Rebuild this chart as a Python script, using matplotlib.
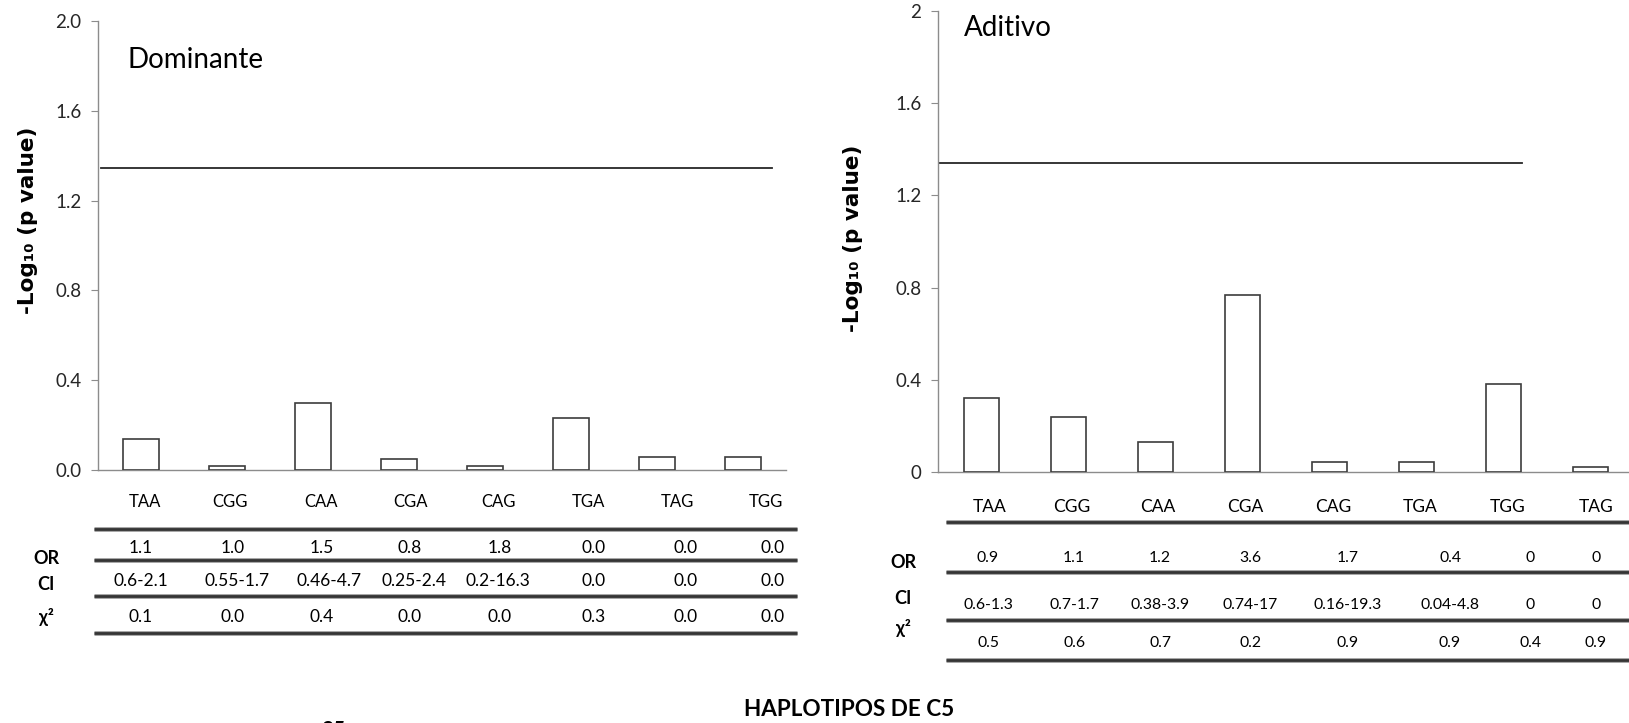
import matplotlib
matplotlib.use("Agg")
import matplotlib.pyplot as plt
from matplotlib.lines import Line2D
from matplotlib import font_manager as fm
import numpy as np

# ---------------- data ----------------
haplo_dom = ["TAA", "CGG", "CAA", "CGA", "CAG", "TGA", "TAG", "TGG"]
logp_dom = [0.14, 0.02, 0.30, 0.05, 0.02, 0.23, 0.06, 0.06]
or_dom = ["1.1", "1.0", "1.5", "0.8", "1.8", "0.0", "0.0", "0.0"]
ci_dom = ["0.6-2.1", "0.55-1.7", "0.46-4.7", "0.25-2.4", "0.2-16.3", "0.0", "0.0", "0.0"]
chi_dom = ["0.1", "0.0", "0.4", "0.0", "0.0", "0.3", "0.0", "0.0"]
thr_dom = 1.345

haplo_add = ["TAA", "CGG", "CAA", "CGA", "CAG", "TGA", "TGG", "TAG"]
logp_add = [0.32, 0.24, 0.13, 0.77, 0.045, 0.045, 0.38, 0.02]
or_add = ["0.9", "1.1", "1.2", "3.6", "1.7", "0.4", "0", "0"]
ci_add = ["0.6-1.3", "0.7-1.7", "0.38-3.9", "0.74-17", "0.16-19.3", "0.04-4.8", "0", "0"]
chi_add = ["0.5", "0.6", "0.7", "0.2", "0.9", "0.9", "0.4", "0.9"]
thr_add = 1.34

yticks_dom = [0.0, 0.4, 0.8, 1.2, 1.6, 2.0]
yticklabels_dom = ["0.0", "0.4", "0.8", "1.2", "1.6", "2.0"]
yticks_add = [0, 0.4, 0.8, 1.2, 1.6, 2]
yticklabels_add = ["0", "0.4", "0.8", "1.2", "1.6", "2"]

# ---------------- layout ----------------
W, H = 1629, 723
DPI = 100
fig = plt.figure(figsize=(W / DPI, H / DPI), dpi=DPI)
fig.patch.set_facecolor("white")

def fx(px):
    return px / W

def fy(py):
    return 1 - py / H

names = {f.name for f in fm.fontManager.ttflist}
if "Liberation Sans Narrow" in names:
    NARROW = ["Liberation Sans Narrow", "DejaVu Sans"]
    s_left, s_right, s_hdr_l, s_hdr_r, s_row = 15, 13, 14, 14.5, 14
else:
    NARROW = ["Lato", "DejaVu Sans"]
    s_left, s_right, s_hdr_l, s_hdr_r, s_row = 12.5, 11.3, 12, 12.5, 13
LATO = ["Lato", "DejaVu Sans"]

SPINE = "#8c8c8c"
EDGE = "#3c3c3c"

def make_axes(left_px, right_px, top_px, bottom_px):
    ax = fig.add_axes([fx(left_px), fy(bottom_px), fx(right_px - left_px), (bottom_px - top_px) / H])
    for s in ["top", "right"]:
        ax.spines[s].set_visible(False)
    for s in ["left", "bottom"]:
        ax.spines[s].set_color(SPINE)
        ax.spines[s].set_linewidth(1.0)
    ax.tick_params(axis="y", direction="out", length=5, width=0.8, color=SPINE, pad=7,
                   labelsize=13.5, labelcolor="#262626")
    ax.tick_params(axis="x", length=0, labelbottom=False)
    ax.set_ylim(0, 2)
    ax.set_xlim(-0.5, 7.5)
    ax.set_facecolor("none")
    return ax

YLABEL = "-Log\u2081\u2080 (p value)"

# ---------------- Dominante ----------------
ax1 = make_axes(98, 786, 21, 470)
x1 = np.arange(len(haplo_dom))
ax1.bar(x1, logp_dom, width=0.41, color="white", edgecolor=EDGE, linewidth=1.2, zorder=3)
ax1.plot([-0.465, 7.34], [thr_dom, thr_dom], color="#262626", linewidth=1.3, zorder=2)
ax1.set_yticks(yticks_dom)
ax1.set_yticklabels(yticklabels_dom, family=LATO)
fig.text(fx(28), fy(220), YLABEL, rotation=90, ha="center", va="center",
         fontsize=15.5, fontweight="bold", family=["DejaVu Sans"])
fig.text(fx(128), fy(60), "Dominante", ha="left", va="center", fontsize=20, family=LATO)

# ---------------- Aditivo ----------------
ax2 = make_axes(938, 1634, 11, 472)
x2 = np.arange(len(haplo_add))
ax2.bar(x2, logp_add, width=0.41, color="white", edgecolor=EDGE, linewidth=1.2, zorder=3)
ax2.plot([-0.5, 6.21], [thr_add, thr_add], color="#262626", linewidth=1.3, zorder=2)
ax2.set_yticks(yticks_add)
ax2.set_yticklabels(yticklabels_add, family=LATO)
fig.text(fx(853), fy(238), YLABEL, rotation=90, ha="center", va="center",
         fontsize=15.5, fontweight="bold", family=["DejaVu Sans"])
fig.text(fx(964), fy(28), "Aditivo", ha="left", va="center", fontsize=20, family=LATO)

# ---------------- tables ----------------
def hline(x0, x1_, y):
    fig.add_artist(Line2D([fx(x0), fx(x1_)], [fy(y), fy(y)], color="#9a9a9a", linewidth=3.4,
                          transform=fig.transFigure, solid_capstyle="butt"))
    fig.add_artist(Line2D([fx(x0), fx(x1_)], [fy(y), fy(y)], color="#353535", linewidth=2.0,
                          transform=fig.transFigure, solid_capstyle="butt"))

# left table
hdr_x_l = [145, 230, 321, 410, 499, 588, 677, 766]
val_x_l = [141, 233, 322, 410, 500, 594, 686, 773]
ci_x_l = [141, 237, 329, 414, 498, 594, 686, 773]
for i, lab in enumerate(haplo_dom):
    fig.text(fx(hdr_x_l[i]), fy(502), lab, ha="center", va="center", fontsize=s_hdr_l, family=NARROW)
    fig.text(fx(val_x_l[i]), fy(548), or_dom[i], ha="center", va="center", fontsize=s_left, family=NARROW)
    fig.text(fx(ci_x_l[i]), fy(581), ci_dom[i], ha="center", va="center", fontsize=s_left, family=NARROW)
    fig.text(fx(val_x_l[i]), fy(617), chi_dom[i], ha="center", va="center", fontsize=s_left, family=NARROW)
for y in [529, 560, 596, 633]:
    hline(94, 797, y)
fig.text(fx(46), fy(558), "OR", ha="center", va="center", fontsize=s_row, fontweight="bold", family=NARROW)
fig.text(fx(46), fy(585), "CI", ha="center", va="center", fontsize=s_row, fontweight="bold", family=NARROW)
fig.text(fx(46), fy(617), "\u03c7\u00b2", ha="center", va="center", fontsize=s_row, fontweight="bold", family=NARROW)

# right table
hdr_x_r = [990, 1072, 1158, 1245, 1333, 1420, 1508, 1596]
val_x_r = [988, 1074, 1160, 1250, 1348, 1450, 1530, 1596]
for i, lab in enumerate(haplo_add):
    fig.text(fx(hdr_x_r[i]), fy(507), lab, ha="center", va="center", fontsize=s_hdr_r, family=NARROW)
    fig.text(fx(val_x_r[i]), fy(558), or_add[i], ha="center", va="center", fontsize=s_right, family=NARROW)
    fig.text(fx(val_x_r[i]), fy(605), ci_add[i], ha="center", va="center", fontsize=s_right, family=NARROW)
    fig.text(fx(val_x_r[i]), fy(643), chi_add[i], ha="center", va="center", fontsize=s_right, family=NARROW)
for y in [522, 572, 620, 660]:
    hline(946, 1629, y)
fig.text(fx(903), fy(562), "OR", ha="center", va="center", fontsize=s_row, fontweight="bold", family=NARROW)
fig.text(fx(903), fy(598), "CI", ha="center", va="center", fontsize=s_row, fontweight="bold", family=NARROW)
fig.text(fx(903), fy(628), "\u03c7\u00b2", ha="center", va="center", fontsize=s_row, fontweight="bold", family=NARROW)

# bottom title and cropped fragment (cut by the lower edge, as in the source image)
fig.text(fx(849), fy(710), "HAPLOTIPOS DE C5", ha="center", va="center", fontsize=16.2,
         fontweight="bold", family=LATO)
fig.text(fx(333), fy(720), "25", ha="center", va="top", fontsize=15, fontweight="bold", family=LATO)

fig.savefig("out.png", dpi=DPI, facecolor="white")
